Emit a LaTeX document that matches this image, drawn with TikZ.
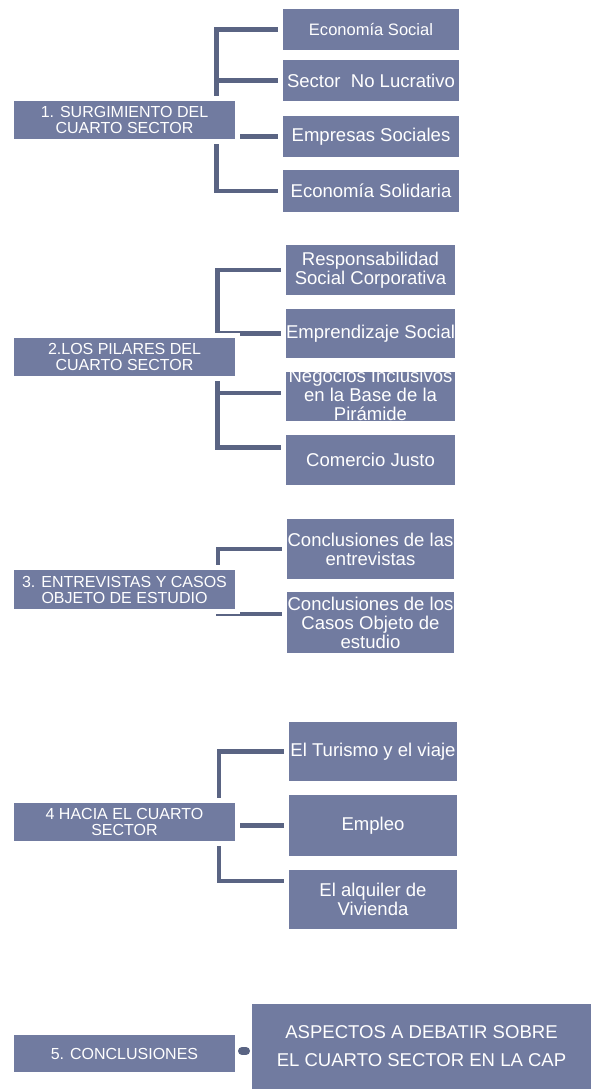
\documentclass[tikz,border=0pt]{standalone}
\usepackage{fontspec}
\setmainfont{Liberation Sans}
\usetikzlibrary{calc,backgrounds}
\definecolor{boxfill}{RGB}{113,123,160}
\definecolor{linecol}{RGB}{90,100,131}
\begin{document}
\begin{tikzpicture}[x=0.75pt,y=-0.75pt,
  area/.style n args={4}{anchor=center,at={({(#1+#3)/2},{(#2+#4)/2})},
     minimum width={(#3-#1+5)*0.75pt},minimum height={(#4-#2+5)*0.75pt}},
  box/.style={fill=boxfill,draw=white,line width=3.75pt,inner sep=0pt,outer sep=0pt,text=white,align=center},
  lbox/.style={box,font=\fontsize{12}{12}\selectfont},
  rbox/.style={box,font=\fontsize{13.9}{14.3}\selectfont},
  rtext/.style={inner sep=0pt,text=white,align=center,font=\fontsize{13.9}{14.3}\selectfont},
  conn/.style={draw=linecol,line width=3.5pt}]
\useasboundingbox (0,0) rectangle (591,1090);

% Section 1
\node[lbox,area={14}{101}{235}{139}] (L1) {1. SURGIMIENTO DEL\\CUARTO SECTOR};
\node[rbox,area={283}{9}{459}{50},font=\fontsize{12.4}{13}\selectfont] (R1a) {Economía Social};
\node[rbox,area={283}{60}{459}{101}] (R1b) {Sector\ \ No Lucrativo};
\node[rbox,area={283}{116}{459}{157}] (R1c) {Empresas Sociales};
\node[rbox,area={283}{170}{459}{212}] (R1d) {Economía Solidaria};

% Section 2
\node[lbox,area={14}{338}{235}{376}] (L2) {2.LOS PILARES DEL\\CUARTO SECTOR};
\node[rbox,area={286}{245}{455}{295}] (R2a) {Responsabilidad\\Social Corporativa};
\node[rbox,area={286}{309}{455}{358}] (R2b) {Emprendizaje Social};
\node[rbox,area={286}{372}{455}{421}] (R2c) {};
\node[rtext] (T2c) at ($(R2c.center)+(0,-2)$) {Negocios Inclusivos\\en la Base de la\\Pirámide};
\node[rbox,area={286}{435}{455}{485}] (R2d) {Comercio Justo};

% Section 3
\node[lbox,area={14}{570}{235}{609}] (L3) {3. ENTREVISTAS Y CASOS\\OBJETO DE ESTUDIO};
\node[rbox,area={287}{519}{454}{579}] (R3a) {Conclusiones de las\\entrevistas};
\node[rbox,area={287}{592}{454}{653}] (R3b) {};
\node[rtext] (T3b) at (R3b.center) {Conclusiones de los\\Casos Objeto de\\estudio};

% Section 4
\node[lbox,area={14}{803}{235}{841}] (L4) {4 HACIA EL CUARTO\\SECTOR};
\node[rbox,area={289}{722}{457}{781}] (R4a) {El Turismo y el viaje};
\node[rbox,area={289}{795}{457}{856}] (R4b) {Empleo};
\node[rbox,area={289}{870}{457}{929}] (R4c) {El alquiler de\\Vivienda};

% Section 5
\node[lbox,area={14}{1035}{235}{1072}] (L5) {5. CONCLUSIONES};
\node[rbox,area={252}{1004}{591}{1089},font=\fontsize{13.9}{21}\selectfont] (R5) {ASPECTOS A DEBATIR SOBRE\\EL CUARTO SECTOR EN LA CAP};

\begin{scope}[on background layer]
\draw[conn] ($(L1.east)+(-21,0)$) |- (R1a.west);
\draw[conn] ($(L1.east)+(-21,0)$) |- (R1b.west);
\draw[conn] ($(L1.east)+(-21,0)$) |- (R1c.west);
\draw[conn] ($(L1.east)+(-21,0)$) |- (R1d.west);

\draw[conn] ($(L2.east)+(-20,0)$) |- (R2a.west);
\draw[conn] ($(L2.east)+(-20,0)$) |- (R2b.west);
\draw[conn] ($(L2.east)+(-20,0)$) |- ($(R2c.west)+(0,-3.5)$);
\draw[conn] ($(L2.east)+(-20,0)$) |- ($(R2d.west)+(0,-12.5)$);

\draw[conn] ($(L3.east)+(-19.5,0)$) |- (R3a.west);
\draw[conn] ($(L3.east)+(-19.5,0)$) |- ($(R3b.west)+(0,-8.5)$);

\draw[conn] ($(L4.east)+(-18.5,0)$) |- (R4a.west);
\draw[conn] ($(L4.east)+(-18.5,0)$) |- (R4b.west);
\draw[conn] ($(L4.east)+(-18.5,0)$) |- ($(R4c.west)+(0,-18.5)$);
\end{scope}

\draw[conn,line width=6pt,line cap=round] ($(L5.east)+(4.5,-2.5)$) -- ($(R5.west |- L5.east)+(-3.5,-2.5)$);
\end{tikzpicture}
\end{document}
